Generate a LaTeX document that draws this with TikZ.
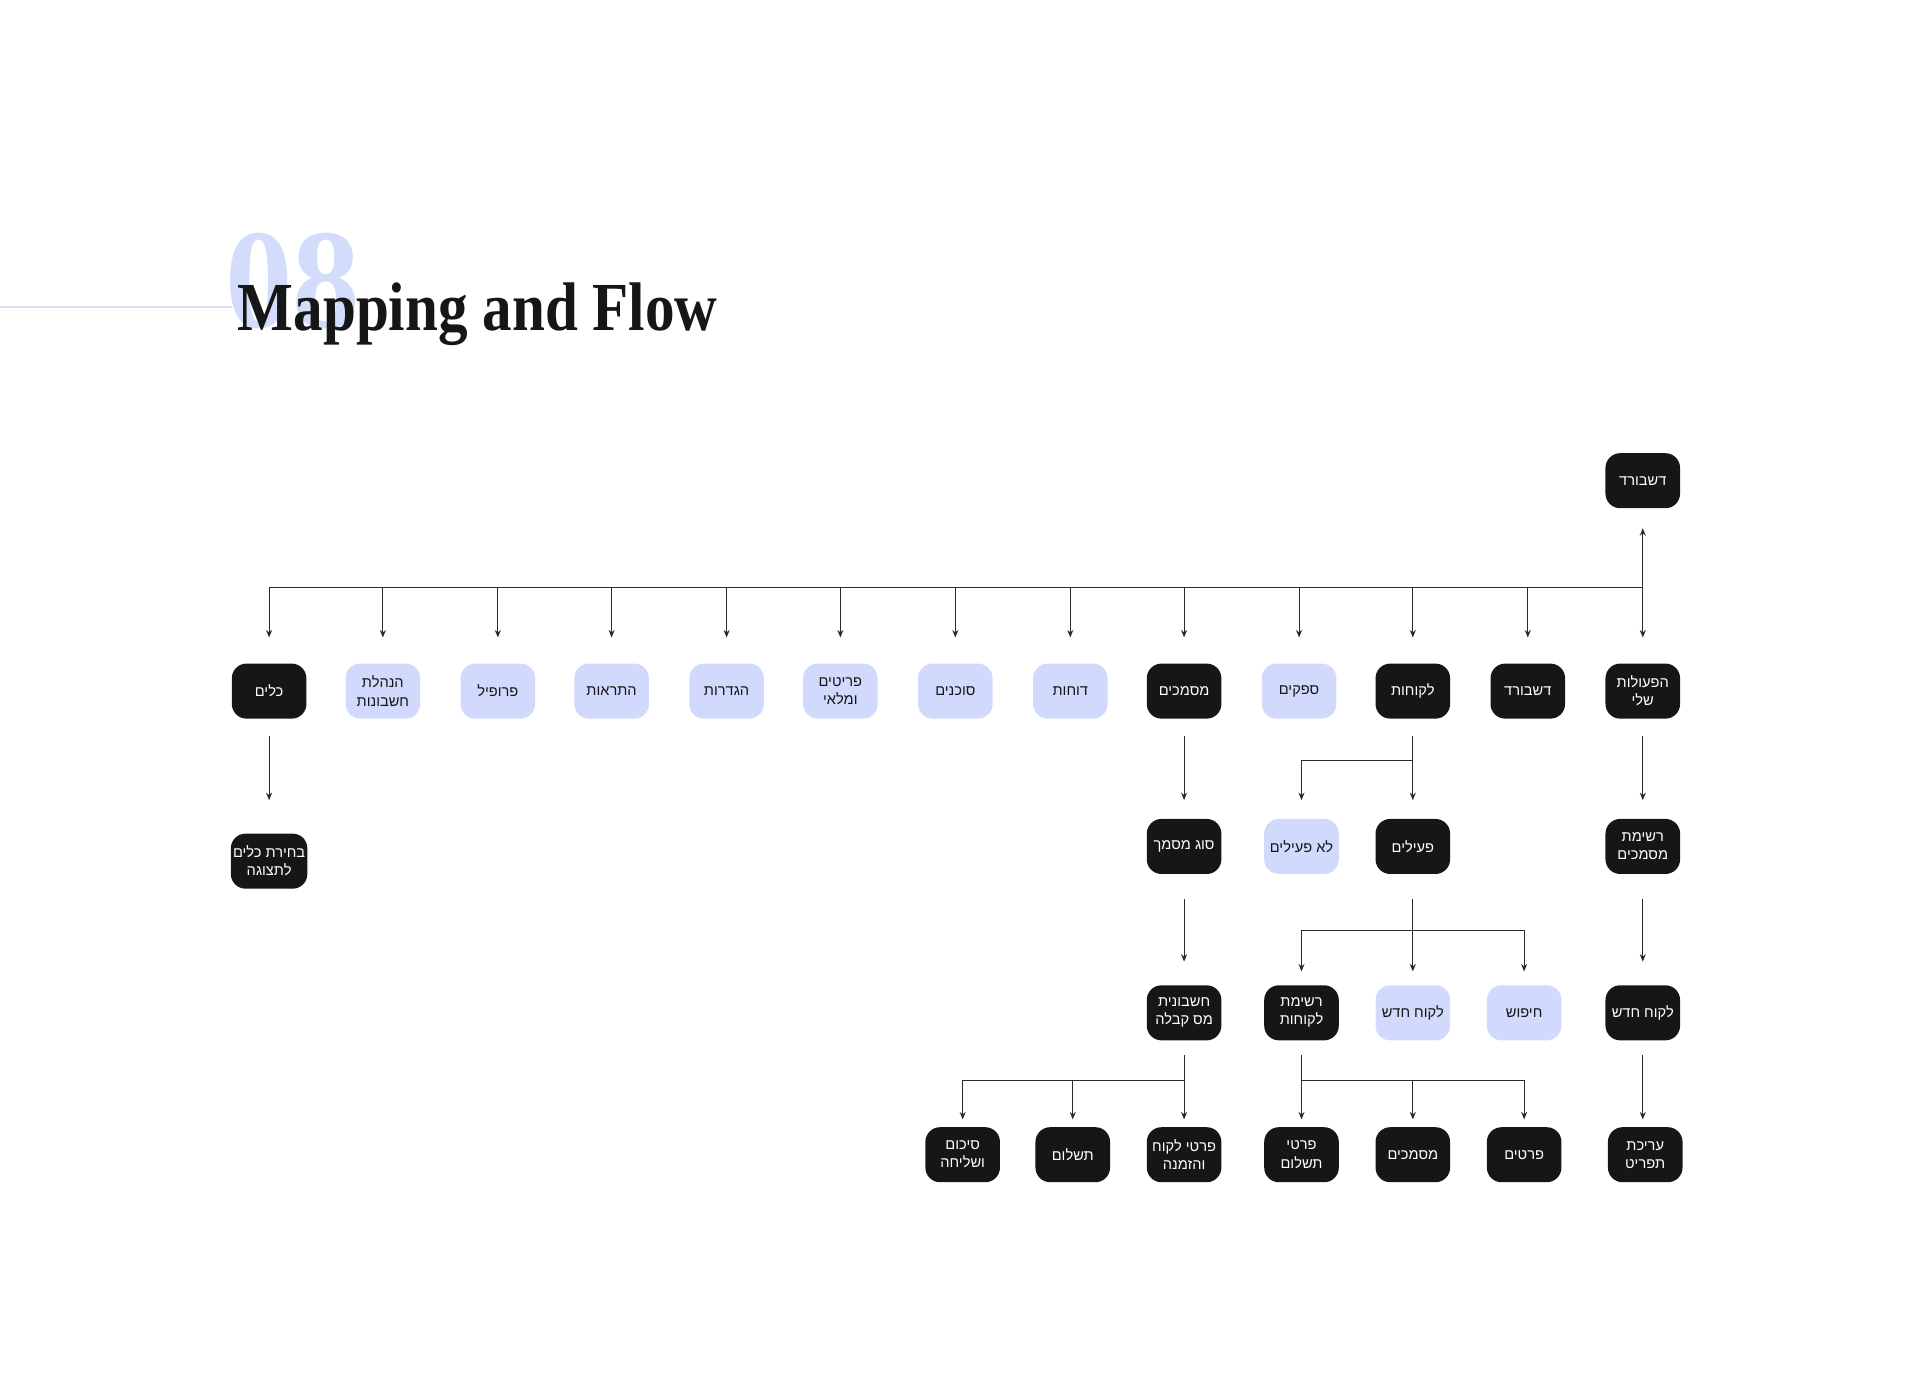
\documentclass[tikz,border=0pt]{standalone}
\usepackage{fontspec}
\usepackage{graphicx}
\setmainfont{Liberation Sans}
\newfontfamily\hebfont[Script=Hebrew]{Liberation Sans}
\newfontfamily\titlefont{Liberation Serif}
\TeXXeTstate=1
\usetikzlibrary{arrows.meta}

\definecolor{boxdark}{HTML}{161616}
\definecolor{boxlight}{HTML}{D1DAFC}
\definecolor{numcol}{HTML}{D3DCFB}
\definecolor{rulecol}{HTML}{DCE1F2}
\definecolor{linkcol}{HTML}{2A2A2A}

% one line of hebrew text
\newcommand{\heb}[1]{{\hebfont\beginR #1\endR}}

\tikzset{
  screen/.style={rounded corners=0.24cm, minimum width=1.22cm, minimum height=0.9cm,
    inner sep=1pt, align=center, font=\hebfont\fontsize{6.8}{8.4}\selectfont},
  darkbox/.style={screen, fill=boxdark, text=white},
  lightbox/.style={screen, fill=boxlight, text=boxdark},
  link/.style={draw=linkcol, line width=0.5pt},
  arrow/.style={link, -{Stealth[length=3.5pt,width=2.8pt]}},
}

\begin{document}
\begin{tikzpicture}[x=0.02cm, y=-0.02cm]
\useasboundingbox (0,0) rectangle (1568,1131);

% title
\draw[rulecol, line width=0.6pt] (0,251) -- (190,251);
\node[anchor=base west, inner sep=0, text=numcol, font=\titlefont\bfseries\fontsize{66}{66}\selectfont] (num) at (184,268) {\scalebox{0.95}[1]{08}};
\node[anchor=base west, inner sep=0, text=boxdark, font=\titlefont\bfseries\fontsize{32}{32}\selectfont] (title) at (194,270) {\scalebox{0.86}[1]{Mapping and Flow}};

% top
\node[darkbox] (home) at (1343,393) {\heb{דשבורד}};

% first level
\node[darkbox]  (tools)     at (220,565)  {\heb{כלים}};
\node[lightbox] (books)     at (313,565)  {\heb{הנהלת}\\\heb{חשבונות}};
\node[lightbox] (profile)   at (407,565)  {\heb{פרופיל}};
\node[lightbox] (alerts)    at (500,565)  {\heb{התראות}};
\node[lightbox] (settings)  at (594,565)  {\heb{הגדרות}};
\node[lightbox] (items)     at (687,565)  {\heb{פריטים}\\\heb{ומלאי}};
\node[lightbox] (agents)    at (781,565)  {\heb{סוכנים}};
\node[lightbox] (reports)   at (875,565)  {\heb{דוחות}};
\node[darkbox]  (docs)      at (968,565)  {\heb{מסמכים}};
\node[lightbox] (suppliers) at (1062,565) {\heb{ספקים}};
\node[darkbox]  (clients)   at (1155,565) {\heb{לקוחות}};
\node[darkbox]  (dash)      at (1249,565) {\heb{דשבורד}};
\node[darkbox]  (acts)      at (1343,565) {\heb{הפעולות}\\\heb{שלי}};

% second level
\node[darkbox]  (pick)     at (220,704)  {\heb{בחירת כלים}\\\heb{לתצוגה}};
\node[darkbox]  (doctype)  at (968,692)  {\heb{סוג מסמך}};
\node[lightbox] (inactive) at (1064,692) {\heb{לא פעילים}};
\node[darkbox]  (active)   at (1155,692) {\heb{פעילים}};
\node[darkbox]  (doclist)  at (1343,692) {\heb{רשימת}\\\heb{מסמכים}};

% third level
\node[darkbox]  (invoice)    at (968,828)  {\heb{חשבונית}\\\heb{מס קבלה}};
\node[darkbox]  (clientlist) at (1064,828) {\heb{רשימת}\\\heb{לקוחות}};
\node[lightbox] (newclient)  at (1155,828) {\heb{לקוח חדש}};
\node[lightbox] (search)     at (1246,828) {\heb{חיפוש}};
\node[darkbox]  (newitem)    at (1343,828) {\heb{לקוח חדש}};

% fourth level
\node[darkbox] (summary)   at (787,944)  {\heb{סיכום}\\\heb{ושליחה}};
\node[darkbox] (payment)   at (877,944)  {\heb{תשלום}};
\node[darkbox] (orderinfo) at (968,944)  {\heb{פרטי לקוח}\\\heb{והזמנה}};
\node[darkbox] (payinfo)   at (1064,944) {\heb{פרטי}\\\heb{תשלום}};
\node[darkbox] (cdocs)     at (1155,944) {\heb{מסמכים}};
\node[darkbox] (details)   at (1246,944) {\heb{פרטים}};
\node[darkbox] (menu)      at (1345,944) {\heb{עריכת}\\\heb{תפריט}};

% connectors
\coordinate (bus) at (0,480);
\coordinate (fork1) at (0,622);
\coordinate (fork2) at (0,761);
\coordinate (fork3) at (0,883);

\draw[link] (tools |- bus) -- (acts |- bus);
\draw[link, {Stealth[length=3.5pt,width=2.8pt]}-{Stealth[length=3.5pt,width=2.8pt]}, shorten <=0.32cm, shorten >=0.42cm] (home) -- (acts);
\foreach \n in {tools,books,profile,alerts,settings,items,agents,reports,docs,suppliers,clients,dash}
  \draw[arrow, shorten >=0.42cm] (\n |- bus) -- (\n);

\draw[arrow, shorten <=0.28cm, shorten >=0.54cm] (tools) -- (pick);
\draw[arrow, shorten <=0.28cm, shorten >=0.3cm] (docs) -- (doctype);
\draw[arrow, shorten <=0.28cm, shorten >=0.3cm] (clients) -- (active);
\draw[arrow, shorten >=0.3cm] (clients |- fork1) -| (inactive);
\draw[arrow, shorten <=0.28cm, shorten >=0.3cm] (acts) -- (doclist);

\draw[arrow, shorten <=0.4cm, shorten >=0.38cm] (doctype) -- (invoice);
\draw[arrow, shorten <=0.4cm, shorten >=0.22cm] (active) -- (newclient);
\draw[arrow, shorten >=0.22cm] (active |- fork2) -| (clientlist);
\draw[arrow, shorten >=0.22cm] (active |- fork2) -| (search);
\draw[arrow, shorten <=0.4cm, shorten >=0.38cm] (doclist) -- (newitem);

\draw[arrow, shorten <=0.24cm, shorten >=0.12cm] (invoice) -- (orderinfo);
\draw[arrow, shorten >=0.12cm] (invoice |- fork3) -| (payment);
\draw[arrow, shorten >=0.12cm] (invoice |- fork3) -| (summary);
\draw[arrow, shorten <=0.24cm, shorten >=0.12cm] (clientlist) -- (payinfo);
\draw[arrow, shorten >=0.12cm] (clientlist |- fork3) -| (cdocs);
\draw[arrow, shorten >=0.12cm] (clientlist |- fork3) -| (details);
\draw[arrow, shorten <=0.24cm, shorten >=0.12cm] (newitem) -- (newitem |- menu.north);
\end{tikzpicture}
\end{document}
